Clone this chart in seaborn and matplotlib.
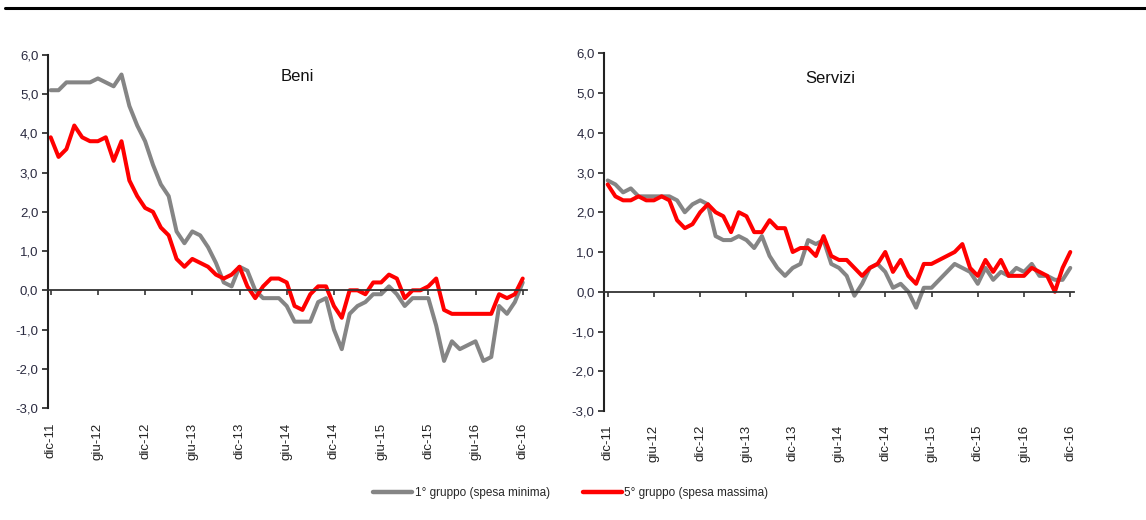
import matplotlib
matplotlib.use("Agg")
import matplotlib.pyplot as plt
import seaborn as sns
import pandas as pd
from matplotlib.lines import Line2D
from matplotlib.ticker import FuncFormatter

# monthly index dic-11 .. dic-16 (61 months)
mesi = list(range(61))
tick_pos = [0, 6, 12, 18, 24, 30, 36, 42, 48, 54, 60]
tick_lab = ["dic-11", "giu-12", "dic-12", "giu-13", "dic-13", "giu-14",
            "dic-14", "giu-15", "dic-15", "giu-16", "dic-16"]

beni_min = [5.1, 5.1, 5.3, 5.3, 5.3, 5.3, 5.4, 5.3, 5.2, 5.5,
            4.7, 4.2, 3.8, 3.2, 2.7, 2.4, 1.5, 1.2, 1.5, 1.4,
            1.1, 0.7, 0.2, 0.1, 0.6, 0.5, 0.0, -0.2, -0.2, -0.2,
            -0.4, -0.8, -0.8, -0.8, -0.3, -0.2, -1.0, -1.5, -0.6, -0.4,
            -0.3, -0.1, -0.1, 0.1, -0.1, -0.4, -0.2, -0.2, -0.2, -0.9,
            -1.8, -1.3, -1.5, -1.4, -1.3, -1.8, -1.7, -0.4, -0.6, -0.3, 0.2]
beni_max = [3.9, 3.4, 3.6, 4.2, 3.9, 3.8, 3.8, 3.9, 3.3, 3.8,
            2.8, 2.4, 2.1, 2.0, 1.6, 1.4, 0.8, 0.6, 0.8, 0.7,
            0.6, 0.4, 0.3, 0.4, 0.6, 0.1, -0.2, 0.1, 0.3, 0.3,
            0.2, -0.4, -0.5, -0.1, 0.1, 0.1, -0.4, -0.7, 0.0, 0.0,
            -0.1, 0.2, 0.2, 0.4, 0.3, -0.2, 0.0, 0.0, 0.1, 0.3,
            -0.5, -0.6, -0.6, -0.6, -0.6, -0.6, -0.6, -0.1, -0.2, -0.1, 0.3]
serv_min = [2.8, 2.7, 2.5, 2.6, 2.4, 2.4, 2.4, 2.4, 2.4, 2.3,
            2.0, 2.2, 2.3, 2.2, 1.4, 1.3, 1.3, 1.4, 1.3, 1.1,
            1.4, 0.9, 0.6, 0.4, 0.6, 0.7, 1.3, 1.2, 1.3, 0.7,
            0.6, 0.4, -0.1, 0.2, 0.6, 0.7, 0.5, 0.1, 0.2, 0.0,
            -0.4, 0.1, 0.1, 0.3, 0.5, 0.7, 0.6, 0.5, 0.2, 0.6,
            0.3, 0.5, 0.4, 0.6, 0.5, 0.7, 0.4, 0.4, 0.3, 0.3, 0.6]
serv_max = [2.7, 2.4, 2.3, 2.3, 2.4, 2.3, 2.3, 2.4, 2.3, 1.8,
            1.6, 1.7, 2.0, 2.2, 2.0, 1.9, 1.5, 2.0, 1.9, 1.5,
            1.5, 1.8, 1.6, 1.6, 1.0, 1.1, 1.1, 0.9, 1.4, 0.9,
            0.8, 0.8, 0.6, 0.4, 0.6, 0.7, 1.0, 0.5, 0.8, 0.4,
            0.2, 0.7, 0.7, 0.8, 0.9, 1.0, 1.2, 0.6, 0.4, 0.8,
            0.5, 0.8, 0.4, 0.4, 0.4, 0.6, 0.5, 0.4, 0.0, 0.6, 1.0]

lab_min = "1° gruppo (spesa minima)"
lab_max = "5° gruppo (spesa massima)"
colori = {lab_min: "#858585", lab_max: "#ff0000"}

sns.set_style("white")
plt.rcParams['font.family'] = ['Liberation Sans', 'DejaVu Sans']

def to_long(v_min, v_max):
    a = pd.DataFrame({"mese": mesi, "valore": v_min, "serie": lab_min})
    b = pd.DataFrame({"mese": mesi, "valore": v_max, "serie": lab_max})
    return pd.concat([a, b], ignore_index=True)

fig = plt.figure(figsize=(11.46, 5.2), dpi=100)
ax1 = fig.add_axes([0.0419, 0.2154, 0.418, 0.679])
ax2 = fig.add_axes([0.5273, 0.2096, 0.410, 0.688])

pannelli = [(ax1, to_long(beni_min, beni_max), "Beni", 0.52, 0.94, (-0.34, 60.55)),
            (ax2, to_long(serv_min, serv_max), "Servizi", 0.48, 0.93, (-0.44, 60.5))]

for ax, df, titolo, tx, ty, xl in pannelli:
    sns.lineplot(data=df, x="mese", y="valore", hue="serie", palette=colori,
                 linewidth=2.9, ax=ax, legend=False)
    ax.set_xlim(*xl)
    ax.set_ylim(-3, 6)
    ax.set_yticks(range(-3, 7))
    ax.yaxis.set_major_formatter(FuncFormatter(lambda v, p: f"{v:.1f}".replace(".", ",")))
    ax.set_xticks(tick_pos)
    ax.set_xticklabels(tick_lab)
    ax.set_xlabel("")
    ax.set_ylabel("")
    for s in ["top", "right"]:
        ax.spines[s].set_visible(False)
    ax.spines["bottom"].set_position(("data", 0))
    ax.spines["bottom"].set_color("#333333")
    ax.spines["bottom"].set_linewidth(1.3)
    ax.spines["left"].set_color("#222222")
    ax.spines["left"].set_linewidth(1.5)
    ax.tick_params(axis="y", direction="out", length=4, width=1.2, color="#222222",
                   labelsize=9.5, labelcolor="#2a2a40", pad=3, left=True)
    ax.tick_params(axis="x", direction="out", length=3.5, width=1.2, color="#333333",
                   labelsize=9.5, labelcolor="#222222", pad=92, bottom=True,
                   labelrotation=90)
    ax.text(tx, ty, titolo, transform=ax.transAxes, ha="center", va="center",
            fontsize=12, color="#111111")
    ax.patch.set_alpha(0)

handles = [Line2D([], [], color=colori[lab_min], lw=3.2),
           Line2D([], [], color=colori[lab_max], lw=3.2)]
fig.legend(handles, [lab_min, lab_max], loc="center", bbox_to_anchor=(0.498, 0.052),
           ncol=2, frameon=False, fontsize=8.5, handlelength=3.3, handletextpad=0.2,
           columnspacing=2.8)

fig.add_artist(Line2D([0.004, 1.0], [0.985, 0.985], transform=fig.transFigure,
                      color="black", lw=2.2))

fig.savefig("out.png", dpi=100)
